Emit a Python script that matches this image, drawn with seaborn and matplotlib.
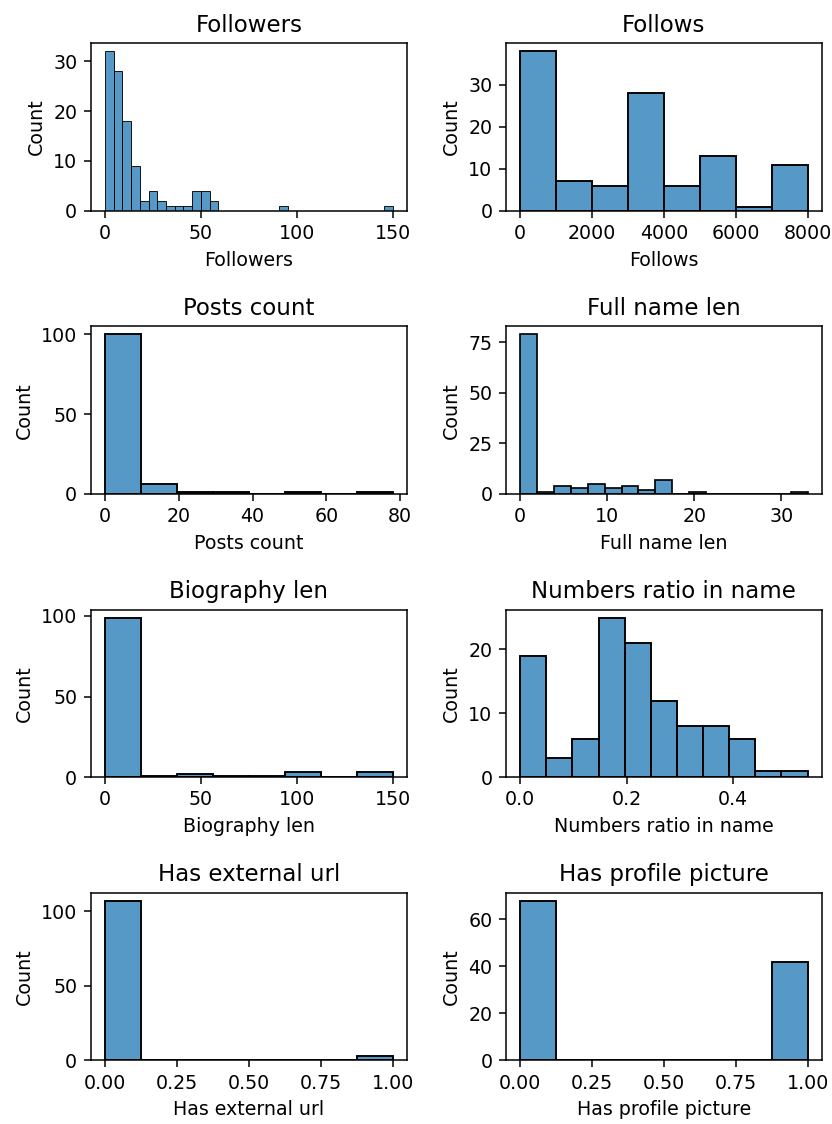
import numpy as np
import seaborn as sns
import matplotlib.pyplot as plt

# bin counts, plus the (min, max) span the bins cover
followers_counts = [32, 28, 18, 9, 2, 4, 2, 1, 1, 1, 4, 4, 2,
                    0, 0, 0, 0, 0, 0, 0, 1,
                    0, 0, 0, 0, 0, 0, 0, 0, 0, 0, 0, 1]
followers_range = (0, 150)

follows_counts = [38, 7, 6, 28, 6, 13, 1, 11]
follows_range = (0, 8000)

posts_counts = [100, 6, 1, 1, 0, 1, 0, 1]
posts_range = (0, 78)

fullname_counts = [79, 1, 4, 3, 5, 3, 4, 2, 7, 0, 1, 0, 0, 0, 0, 0, 1]
fullname_range = (0, 33)

bio_counts = [99, 1, 2, 1, 1, 3, 0, 3]
bio_range = (0, 150)

numratio_counts = [19, 3, 6, 25, 21, 12, 8, 8, 6, 1, 1]
numratio_range = (0, 0.54)

url_counts = [107, 0, 0, 0, 0, 0, 0, 3]
url_range = (0, 1)

pic_counts = [68, 0, 0, 0, 0, 0, 0, 42]
pic_range = (0, 1)

titles = ["Followers", "Follows", "Posts count", "Full name len",
          "Biography len", "Numbers ratio in name", "Has external url",
          "Has profile picture"]
all_counts = [followers_counts, follows_counts, posts_counts, fullname_counts,
              bio_counts, numratio_counts, url_counts, pic_counts]
all_ranges = [followers_range, follows_range, posts_range, fullname_range,
              bio_range, numratio_range, url_range, pic_range]

dpi = 137
fig, axes = plt.subplots(4, 2, figsize=(832 / dpi, 1124 / dpi), dpi=dpi)
fig.subplots_adjust(left=0.109, right=0.988, top=0.9615, bottom=0.0567,
                    wspace=0.312, hspace=0.69)

for ax, title, counts, rng in zip(axes.flat, titles, all_counts, all_ranges):
    n = len(counts)
    edges = np.linspace(rng[0], rng[1], n + 1)
    centers = (edges[:-1] + edges[1:]) / 2
    sns.histplot(x=centers, weights=counts, bins=n, binrange=rng, ax=ax)
    ax.set_title(title)
    ax.set_xlabel(title)
    ax.set_ylabel("Count")

fig.savefig("out.png", dpi=dpi)
